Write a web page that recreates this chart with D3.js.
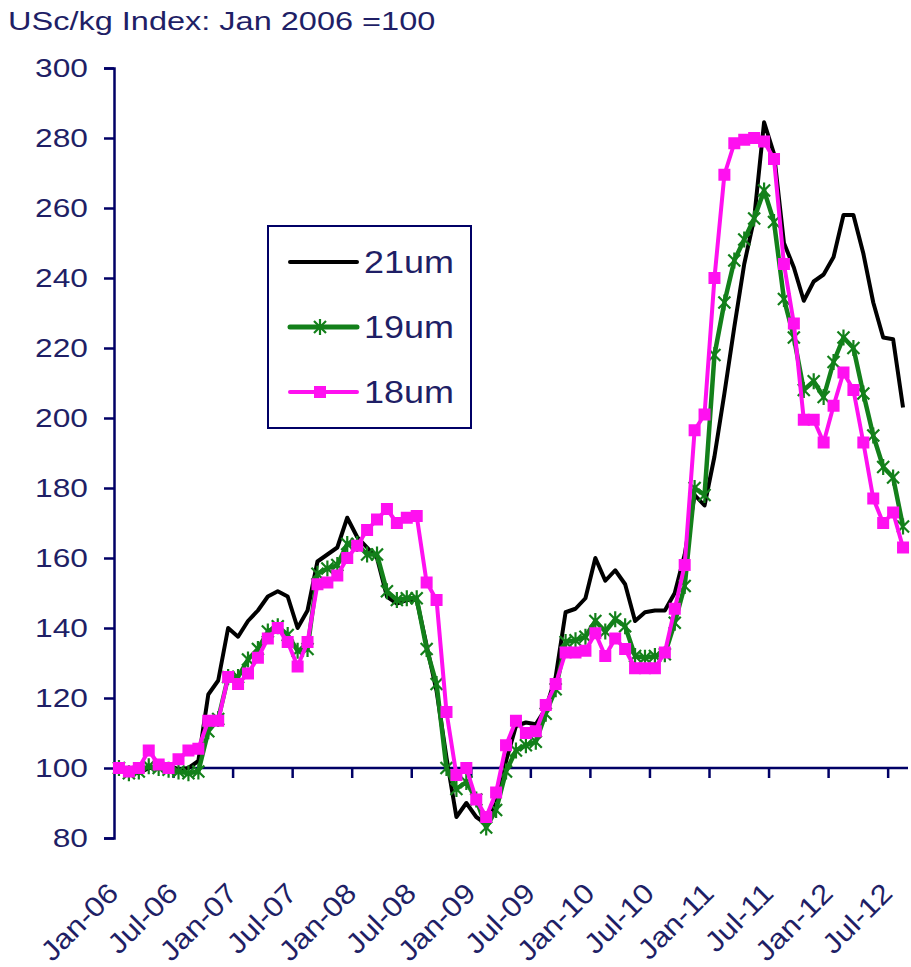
<!DOCTYPE html>
<html>
<head>
<meta charset="utf-8">
<script src="https://cdnjs.cloudflare.com/ajax/libs/d3/7.8.5/d3.min.js"></script>
<style>
body { margin: 0; background: #fff; }
text { font-family: "Liberation Sans", Arial, sans-serif; fill: #1f1f66; }
</style>
</head>
<body>
<svg></svg>
<script>
// monthly wool price indices, Jan 2006 = 100
const months = d3.timeMonth.range(new Date(2006, 0, 1), new Date(2012, 8, 1))
const tickLabels = ['Jan-06', 'Jul-06', 'Jan-07', 'Jul-07', 'Jan-08', 'Jul-08', 'Jan-09',
    'Jul-09', 'Jan-10', 'Jul-10', 'Jan-11', 'Jul-11', 'Jan-12', 'Jul-12']
const yTicks = [80, 100, 120, 140, 160, 180, 200, 220, 240, 260, 280, 300]

const um21 = [100, 99, 98.5, 100, 100, 101, 99.5, 100, 102, 121, 125, 140, 137.5, 142, 145, 149,
    150.5, 149, 140, 145, 159, 161, 163, 171.5, 166, 163, 160, 149, 147, 148, 148, 135, 122, 103,
    86, 90, 86, 84, 90, 102, 112, 113, 112.5, 117, 126, 144.5, 145.5, 148.5, 160, 153.5, 156.5,
    152.5, 142, 144.5, 145, 145, 150, 161, 178, 175, 189, 207, 226, 244, 257, 284.5, 275.5, 250,
    243, 233.5, 239, 241, 246, 258, 258, 247, 233, 223, 222.5, 203]
const um19 = [100, 98.5, 99, 100.5, 100, 99.5, 99, 98.5, 99, 110.5, 114, 126, 126, 131, 134, 139,
    140.5, 138, 133.5, 134, 155.5, 157, 158, 164, 164, 161, 161, 150.5, 148, 148.5, 148.5, 134,
    124, 100, 94, 96, 91, 83, 88, 99, 105, 106.5, 107.5, 115.5, 122.5, 136, 136.5, 137.5, 142,
    139, 142.5, 140.5, 132, 131.5, 132, 132.5, 141.5, 152, 180, 178, 218, 233, 245, 251, 257, 265,
    256, 234, 223, 208, 210.5, 206, 216, 223, 220, 207, 195, 186, 183, 169]
const um18 = [100, 99, 100, 105, 101, 100, 102.5, 105, 105.5, 113.5, 113.5, 126, 124, 127, 131.5,
    137, 140, 136, 129, 136, 152.5, 153, 155, 160, 163.5, 168, 171, 174, 170, 171.5, 172, 153, 148,
    116, 98, 100, 91, 86, 93, 106.5, 113.5, 110, 110.5, 118, 124, 133, 133, 133.5, 138.5, 132, 137,
    134, 128.5, 128.5, 128.5, 133, 145.5, 158, 196.5, 201, 240, 269.5, 278.5, 279.5, 280, 279, 274,
    244, 227, 199.5, 199.5, 193, 203.5, 213, 208, 193, 177, 170, 173, 163]

const navy = '#000066'

let svg = d3.select('svg')
    .attr('width', 911)
    .attr('height', 967)

// stretch text horizontally, the picture is wider than the font
function stretch(sel, k) {
    sel.each(function() {
        let w = this.getComputedTextLength()
        d3.select(this).attr('textLength', w * k).attr('lengthAdjust', 'spacingAndGlyphs')
    })
}

let x = d3.scaleBand()
    .domain(d3.range(months.length))
    .range([114, 908])
let cx = function(i) { return x(i) + x.bandwidth() / 2 }
let y = d3.scaleLinear()
    .domain([80, 300])
    .range([838, 68])

// title
svg.append('text')
    .attr('x', 8)
    .attr('y', 30)
    .attr('font-size', 25)
    .text('USc/kg Index: Jan 2006 =100')
    .call(stretch, 1.3)

// y axis
let yAxis = svg.append('g')
    .attr('transform', 'translate(114,0)')
    .call(d3.axisLeft(y).tickValues(yTicks).tickSize(10).tickPadding(16))
yAxis.select('.domain').attr('stroke', navy).attr('stroke-width', 2.5)
yAxis.selectAll('.tick line').attr('stroke', navy).attr('stroke-width', 2.5)
yAxis.selectAll('.tick text')
    .attr('font-size', 26)
    .attr('font-family', '"Liberation Sans", Arial, sans-serif')
    .attr('fill', '#1f1f66')
    .call(stretch, 1.22)

// x axis crosses at 100
let x0 = y(100)
svg.append('line')
    .attr('x1', 114).attr('x2', 908)
    .attr('y1', x0).attr('y2', x0)
    .attr('stroke', navy).attr('stroke-width', 2.5)
svg.selectAll('.xtick')
    .data(d3.range(6, months.length, 6))
    .enter().append('line')
    .attr('class', 'xtick')
    .attr('x1', function(d) { return x(d) }).attr('x2', function(d) { return x(d) })
    .attr('y1', x0).attr('y2', x0 + 10)
    .attr('stroke', navy).attr('stroke-width', 2.5)

svg.selectAll('.xlabel')
    .data(tickLabels)
    .enter().append('text')
    .attr('class', 'xlabel')
    .attr('font-size', 28)
    .attr('text-anchor', 'end')
    .attr('transform', function(d, i) {
        return 'translate(' + (cx(i * 6) + 1) + ',895) rotate(-45)'
    })
    .text(function(d) { return d })
    .call(stretch, 1.12)

// lines
let line = d3.line()
    .x(function(d, i) { return cx(i) })
    .y(function(d) { return y(d) })

svg.append('path')
    .datum(um21)
    .attr('fill', 'none')
    .attr('stroke', '#000')
    .attr('stroke-width', 4)
    .attr('stroke-linejoin', 'round')
    .attr('d', line)

let green = '#13801a'
svg.append('path')
    .datum(um19)
    .attr('fill', 'none')
    .attr('stroke', green)
    .attr('stroke-width', 4.5)
    .attr('stroke-linejoin', 'round')
    .attr('d', line)

let star = 'M-6,-6L6,6M-6,6L6,-6M0,-8L0,8'
svg.selectAll('.star')
    .data(um19)
    .enter().append('path')
    .attr('class', 'star')
    .attr('d', star)
    .attr('transform', function(d, i) { return 'translate(' + cx(i) + ',' + y(d) + ')' })
    .attr('stroke', green)
    .attr('stroke-width', 2.2)

let pink = '#ff10f0'
svg.append('path')
    .datum(um18)
    .attr('fill', 'none')
    .attr('stroke', pink)
    .attr('stroke-width', 4)
    .attr('stroke-linejoin', 'round')
    .attr('d', line)

svg.selectAll('.sq')
    .data(um18)
    .enter().append('rect')
    .attr('class', 'sq')
    .attr('x', function(d, i) { return cx(i) - 6 })
    .attr('y', function(d) { return y(d) - 6 })
    .attr('width', 12).attr('height', 12)
    .attr('fill', pink)

// legend
let legend = svg.append('g')
legend.append('rect')
    .attr('x', 268).attr('y', 226)
    .attr('width', 203).attr('height', 202)
    .attr('fill', '#fff')
    .attr('stroke', navy).attr('stroke-width', 2)

let items = [
    { name: '21um', color: '#000', mark: null },
    { name: '19um', color: green, mark: 'star' },
    { name: '18um', color: pink, mark: 'sq' }
]
items.forEach(function(it, k) {
    let ly = 262 + k * 65
    legend.append('line')
        .attr('x1', 290).attr('x2', 357)
        .attr('y1', ly).attr('y2', ly)
        .attr('stroke', it.color)
        .attr('stroke-width', it.mark === 'star' ? 5 : 4)
        .attr('stroke-linecap', 'round')
    if (it.mark === 'star') {
        legend.append('path')
            .attr('d', star)
            .attr('transform', 'translate(320,' + ly + ')')
            .attr('stroke', it.color).attr('stroke-width', 2.2)
    }
    if (it.mark === 'sq') {
        legend.append('rect')
            .attr('x', 314).attr('y', ly - 6)
            .attr('width', 12).attr('height', 12)
            .attr('fill', it.color)
    }
    legend.append('text')
        .attr('x', 364)
        .attr('y', ly + 11)
        .attr('font-size', 31)
        .text(it.name)
        .call(stretch, 1.16)
})
</script>
</body>
</html>
